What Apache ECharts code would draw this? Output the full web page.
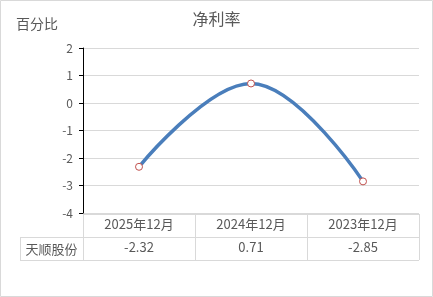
<!DOCTYPE html>
<html><head><meta charset="utf-8">
<script src="https://cdn.jsdelivr.net/npm/echarts@6/dist/echarts.min.js"></script>
<style>html,body{margin:0;padding:0;background:#fff}#c{width:433px;height:297px}</style>
</head><body><div id="c"></div>
<script>
const categories = ['2025年12月', '2024年12月', '2023年12月'];
const seriesName = '天顺股份';
const values = [-2.32, 0.71, -2.85];
const yTicks = [-4, -3, -2, -1, 0, 1, 2];
const titleText = '净利率';
const yUnit = '百分比';

const W = 433, H = 297;
const L = 83, R = 419, T = 48, B = 213;
const rowH = 23;
const labelLeft = 20;
const font = '"Noto Sans CJK SC", sans-serif';
const txt = '#595959';
const gridC = '#d9d9d9';

const chart = echarts.init(document.getElementById('c'));
const colW = (R - L) / categories.length;
const g = [];
g.push({type:'rect', shape:{x:0.5,y:0.5,width:W-1,height:H-1}, style:{fill:'none',stroke:gridC,lineWidth:1}});
const y0 = B + 1, y1 = y0 + rowH, y2 = y1 + rowH;
g.push({type:'line', shape:{x1:L,y1:y0+0.5,x2:R,y2:y0+0.5}, style:{stroke:gridC,lineWidth:1}});
g.push({type:'line', shape:{x1:labelLeft,y1:y1+0.5,x2:R,y2:y1+0.5}, style:{stroke:gridC,lineWidth:1}});
g.push({type:'line', shape:{x1:labelLeft,y1:y2+0.5,x2:R,y2:y2+0.5}, style:{stroke:gridC,lineWidth:1}});
g.push({type:'line', shape:{x1:labelLeft+0.5,y1:y1,x2:labelLeft+0.5,y2:y2}, style:{stroke:gridC,lineWidth:1}});
for (let i = 0; i <= categories.length; i++) {
  const x = Math.round(L + i*colW) + 0.5;
  g.push({type:'line', shape:{x1:x,y1:y0,x2:x,y2:y2}, style:{stroke:gridC,lineWidth:1}});
}
g.push({type:'text', x:(labelLeft+L)/2, y:(y1+y2)/2+1, style:{text:seriesName, fill:txt, font:'13px '+font, textAlign:'center', textVerticalAlign:'middle'}});
g.push({type:'text', x:16, y:24, style:{text:yUnit, fill:txt, font:'14px '+font, textAlign:'left', textVerticalAlign:'middle'}});

chart.setOption({
  animation:false,
  title:{text:titleText, left:'center', top:6, textStyle:{color:txt, fontSize:16, fontWeight:'normal', fontFamily:font}},
  grid:{left:L, right:W-R, top:T, bottom:H-B, containLabel:false},
  xAxis:[{
    type:'category', data:categories, boundaryGap:true,
    axisLine:{show:false}, axisTick:{show:false}, splitLine:{show:false},
    axisLabel:{color:txt, fontSize:13, fontFamily:font, margin:5, verticalAlign:'top'}
  },{
    type:'category', data:values.map(v=>v.toFixed(2)), position:'bottom', offset:rowH, boundaryGap:true,
    axisLine:{show:false}, axisTick:{show:false},
    axisLabel:{color:txt, fontSize:13, fontFamily:font, margin:5, verticalAlign:'top'}
  }],
  yAxis:{
    type:'value', min:yTicks[0], max:yTicks[yTicks.length-1], interval:1,
    axisLine:{show:true, lineStyle:{color:'#000', width:1}},
    axisTick:{show:true, length:4, lineStyle:{color:'#000'}},
    axisLabel:{color:txt, fontSize:12, fontFamily:font, margin:10},
    splitLine:{lineStyle:{color:gridC, width:1}}
  },
  series:[{
    type:'line', name:seriesName, data:values, smooth:0.4,
    symbol:'circle', symbolSize:7,
    lineStyle:{color:'#4A7EBB', width:3.5},
    itemStyle:{color:'#fff', borderColor:'#C0504D', borderWidth:1},
    z:3
  }],
  graphic:g
});
</script></body></html>
